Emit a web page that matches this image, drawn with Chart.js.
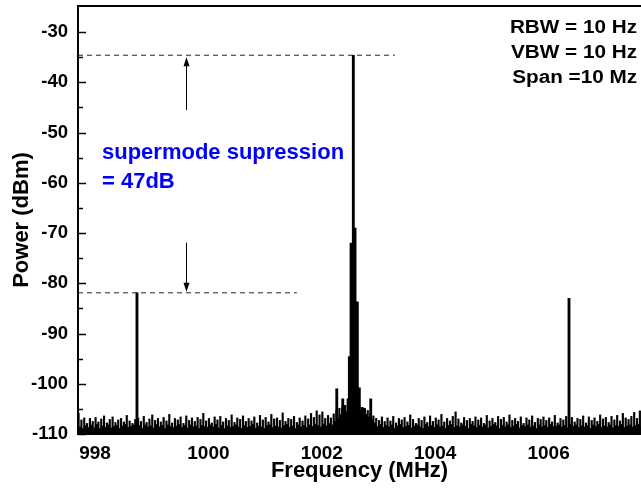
<!DOCTYPE html>
<html>
<head>
<meta charset="utf-8">
<script src="https://cdn.jsdelivr.net/npm/chart.js@4.4.1/dist/chart.umd.min.js"></script>
<style>
  html, body { margin: 0; padding: 0; background: #fff; }
  #wrap { width: 641px; height: 490px; position: relative; }
</style>
</head>
<body>
<div id="wrap"><canvas id="spectrumChart"></canvas></div>
<script>
// spectrum analyser trace, one sample every 0.025 MHz from 997.71 MHz
const freqStart = 997.71;
const freqStep = 0.025;
const noisePower = [
  -105.9, -108.6, -107.2, -108.9, -106.8, -108.3, -107.9, -108.7, -106.9, -108.2,
  -107.5, -108.8, -106.7, -108.1, -107.6, -108.9, -107.0, -108.4, -106.4, -108.7,
  -107.8, -108.2, -107.1, -108.8, -106.6, -108.5, -107.7, -108.3, -107.2, -108.9,
  -106.9, -108.4, -107.6, -108.1, -106.3, -108.7, -107.4, -108.5, -107.9, -108.2,
  -107.1, -108.6, -106.8, -108.3, -107.5, -108.9, -106.5, -108.2, -107.7, -108.6,
  -107.0, -108.4, -106.2, -108.8, -107.3, -108.1, -106.9, -108.6, -107.6, -108.3,
  -106.7, -108.9, -107.4, -108.2, -106.1, -108.5, -107.8, -108.7, -106.9, -108.4,
  -107.2, -108.1, -106.6, -108.7, -107.9, -108.3, -106.4, -108.8, -107.3, -108.2,
  -106.8, -108.6, -107.5, -108.4, -106.7, -108.9, -107.1, -108.3, -105.9, -108.5,
  -107.4, -108.7, -106.9, -108.2, -107.8, -108.6, -106.6, -108.1, -107.2, -108.8,
  -106.5, -108.3, -107.6, -108.9, -106.9, -108.4, -107.3, -108.7, -106.2, -108.5,
  -107.7, -108.2, -106.8, -108.6, -107.1, -108.9, -106.4, -108.3, -107.5, -108.7,
  -106.9, -108.5, -107.4, -108.1, -106.6, -108.8, -107.8, -108.4, -106.3, -108.6,
  -107.2, -108.9, -106.7, -108.3, -107.6, -108.2, -106.1, -108.7, -107.0, -108.4,
  -106.8, -108.6, -107.3, -108.8, -105.8, -108.3, -107.5, -108.1, -106.9, -108.7,
  -107.1, -108.4, -106.5, -108.9, -107.7, -108.2, -106.8, -108.6, -107.4, -108.3,
  -106.4, -108.7, -107.0, -108.2, -105.9, -108.5, -106.7, -108.1, -105.4, -108.3,
  -106.2, -108.6, -105.6, -108.0, -106.9, -108.4, -106.3, -107.9, -106.8, -108.2,
  -106.0, -107.5, -105.3, -106.9, -104.9, -106.2, -104.6, -105.8, -104.3, -105.5,
  -104.1, -105.0, -103.8, -104.6, -103.5, -104.2, -103.9, -104.8, -104.4, -105.2,
  -104.7, -105.6, -104.9, -106.1, -105.3, -106.6, -105.8, -107.2, -106.4, -107.8,
  -106.9, -108.5, -107.3, -108.1, -106.6, -108.7, -107.5, -108.3, -106.8, -108.6,
  -107.4, -108.2, -106.5, -108.9, -107.8, -108.4, -106.9, -108.1, -107.2, -108.7,
  -106.7, -108.5, -107.6, -108.3, -106.2, -108.8, -107.1, -108.4, -107.9, -108.2,
  -106.9, -108.6, -107.3, -108.9, -106.6, -108.1, -107.7, -108.5, -106.4, -108.3,
  -107.5, -108.7, -106.8, -108.2, -107.2, -108.6, -106.1, -108.4, -107.6, -108.9,
  -106.9, -108.3, -107.4, -108.1, -106.5, -108.7, -105.6, -108.4, -107.0, -108.6,
  -107.8, -108.2, -106.7, -108.5, -107.3, -108.9, -106.9, -108.1, -107.5, -108.4,
  -106.6, -108.7, -107.2, -108.3, -106.8, -108.6, -107.9, -108.2, -106.3, -108.8,
  -107.4, -108.5, -106.9, -108.1, -107.7, -108.4, -106.5, -108.9, -107.1, -108.3,
  -106.7, -108.6, -107.6, -108.2, -106.2, -108.7, -107.3, -108.4, -106.9, -108.1,
  -107.5, -108.8, -106.6, -108.3, -107.9, -108.5, -106.8, -108.2, -107.2, -108.6,
  -106.4, -108.4, -107.7, -108.9, -106.9, -108.2, -107.1, -108.6, -106.6, -108.3,
  -107.3, -108.7, -106.8, -108.1, -107.6, -108.5, -106.3, -108.4, -107.8, -108.2,
  -106.9, -108.6, -107.2, -108.3, -106.5, -108.8, -107.4, -108.1, -106.7, -108.5,
  -107.6, -108.2, -106.9, -108.7, -107.1, -108.4, -106.4, -108.6, -107.8, -108.3,
  -106.6, -108.9, -107.3, -108.2, -106.8, -108.5, -107.5, -108.1, -106.2, -108.7,
  -107.0, -108.4, -106.7, -108.6, -107.7, -108.2, -106.5, -108.8, -107.2, -108.3,
  -106.3, -108.5, -107.4, -108.1, -105.9, -108.7, -106.8, -108.4, -107.1, -108.2,
  -106.5, -108.6, -105.7, -108.3, -106.9, -108.1, -105.4, -108.5, -106.6, -108.0
];

// main mode cluster and the two supermode lines
const peakFreq  = [998.74, 1002.264, 1002.370, 1002.463, 1002.486, 1002.516, 1002.556, 1002.586, 1002.627, 1002.662, 1002.727, 1002.863, 1006.36];
const peakPower = [-81.9, -101.0, -103.0, -103.0, -94.6, -72.0, -34.6, -69.0, -83.7, -100.8, -104.8, -103.0, -83.0];

// reference levels for the suppression marker
const upperLevel = -34.6;
const lowerLevel = -81.9;

const xTicks = [998, 1000, 1002, 1004, 1006];
const yTicks = [-110, -100, -90, -80, -70, -60, -50, -40, -30];
const yMinorTicks = [-105, -95, -85, -75, -65, -55, -45, -35];

const infoLines = ["RBW = 10 Hz", "VBW = 10 Hz", "Span =10 Mz"];
const noteLines = ["supermode supression", "= 47dB"];

const FONT = "'Liberation Sans', Arial, sans-serif";

function drawArrow(ctx, x, yTail, yTip) {
    const dir = yTip > yTail ? 1 : -1;
    ctx.beginPath();
    ctx.moveTo(x, yTail);
    ctx.lineTo(x, yTip - dir * 6);
    ctx.stroke();
    ctx.beginPath();
    ctx.moveTo(x, yTip);
    ctx.lineTo(x - 3, yTip - dir * 9);
    ctx.lineTo(x + 3, yTip - dir * 9);
    ctx.closePath();
    ctx.fill();
}

const overlayPlugin = {
    id: "overlay",
    afterDatasetsDraw(chart) {
        const { ctx, chartArea, scales } = chart;
        const x = scales.x, y = scales.y;
        ctx.save();

        // top frame line
        ctx.strokeStyle = "#000";
        ctx.lineWidth = 2;
        ctx.beginPath();
        ctx.moveTo(chartArea.left, chartArea.top);
        ctx.lineTo(chartArea.right, chartArea.top);
        ctx.stroke();

        // inward ticks on the power axis
        ctx.lineWidth = 1.5;
        yTicks.forEach(v => {
            const py = Math.round(y.getPixelForValue(v)) + 0.5;
            ctx.beginPath();
            ctx.moveTo(chartArea.left, py);
            ctx.lineTo(chartArea.left + 8, py);
            ctx.stroke();
        });
        yMinorTicks.forEach(v => {
            const py = Math.round(y.getPixelForValue(v)) + 0.5;
            ctx.beginPath();
            ctx.moveTo(chartArea.left, py);
            ctx.lineTo(chartArea.left + 5, py);
            ctx.stroke();
        });

        // arrows
        ctx.lineWidth = 1;
        ctx.fillStyle = "#000";
        const ax = Math.round(x.getPixelForValue(999.61)) + 0.5;
        drawArrow(ctx, ax, y.getPixelForValue(-45.5), y.getPixelForValue(upperLevel) + 2);
        drawArrow(ctx, ax, y.getPixelForValue(-71.9), y.getPixelForValue(lowerLevel) - 1);

        // instrument settings (slightly wide lettering, as in the source figure)
        ctx.font = "bold 18px " + FONT;
        ctx.textAlign = "right";
        ctx.textBaseline = "alphabetic";
        ctx.fillStyle = "#000";
        infoLines.forEach((t, i) => {
            ctx.save();
            ctx.translate(637, 33 + i * 25);
            ctx.scale(1.15, 1);
            ctx.fillText(t, 0, 0);
            ctx.restore();
        });

        // suppression note
        ctx.font = "bold 22px " + FONT;
        ctx.textAlign = "left";
        ctx.fillStyle = "#0000ff";
        noteLines.forEach((t, i) => ctx.fillText(t, 102, 159 + i * 29));

        ctx.restore();
    }
};

const ctx = document.getElementById("spectrumChart").getContext("2d");

new Chart(ctx, {
    type: "bar",
    data: {
        datasets: [
            {
                label: "trace",
                data: noisePower.map((p, i) => ({ x: freqStart + i * freqStep, y: p })),
                backgroundColor: "#000",
                barThickness: 1.5,
                base: -111,
                grouped: false
            },
            {
                label: "peaks",
                data: peakFreq.map((f, i) => ({ x: f, y: peakPower[i] })),
                backgroundColor: "#000",
                barThickness: 2.2,
                base: -111,
                grouped: false
            },
            {
                type: "line",
                label: "upper",
                data: [{ x: 997.7, y: upperLevel }, { x: 1003.29, y: upperLevel }],
                borderColor: "#222",
                borderWidth: 1,
                borderDash: [5, 4],
                pointRadius: 0
            },
            {
                type: "line",
                label: "lower",
                data: [{ x: 997.7, y: lowerLevel }, { x: 1001.56, y: lowerLevel }],
                borderColor: "#222",
                borderWidth: 1,
                borderDash: [5, 4],
                pointRadius: 0
            }
        ]
    },
    options: {
        responsive: true,
        maintainAspectRatio: false,
        animation: false,
        layout: { padding: { top: 6, right: 0, left: 0, bottom: 0 } },
        plugins: {
            legend: { display: false },
            tooltip: { enabled: false }
        },
        scales: {
            x: {
                type: "linear",
                min: 997.7,
                max: 1007.63,
                offset: false,
                afterBuildTicks: scale => { scale.ticks = xTicks.map(v => ({ value: v })); },
                afterFit: scale => {
                    scale.height = 56;
                    scale.paddingLeft = 0;
                    scale.paddingRight = 0;
                },
                grid: { display: false, drawTicks: false },
                border: { display: true, color: "#000", width: 2 },
                ticks: {
                    color: "#000",
                    padding: 8,
                    maxRotation: 0,
                    callback: v => String(v),
                    font: { family: FONT, size: 19, weight: "bold" }
                },
                title: {
                    display: true,
                    text: "Frequency (MHz)",
                    color: "#000",
                    padding: { top: 0, bottom: 6 },
                    font: { family: FONT, size: 22, weight: "bold" }
                }
            },
            y: {
                min: -110,
                max: -24.8,
                afterBuildTicks: scale => { scale.ticks = yTicks.map(v => ({ value: v })); },
                afterFit: scale => {
                    scale.width = 78;
                    scale.paddingTop = 0;
                    scale.paddingBottom = 0;
                },
                grid: { display: false, drawTicks: false },
                border: { display: true, color: "#000", width: 2 },
                ticks: {
                    color: "#000",
                    padding: 10,
                    font: { family: FONT, size: 18.5, weight: "bold" }
                },
                title: {
                    display: true,
                    text: "Power (dBm)",
                    color: "#000",
                    padding: { top: 9, bottom: 0 },
                    font: { family: FONT, size: 22, weight: "bold" }
                }
            }
        }
    },
    plugins: [overlayPlugin]
});
</script>
</body>
</html>
